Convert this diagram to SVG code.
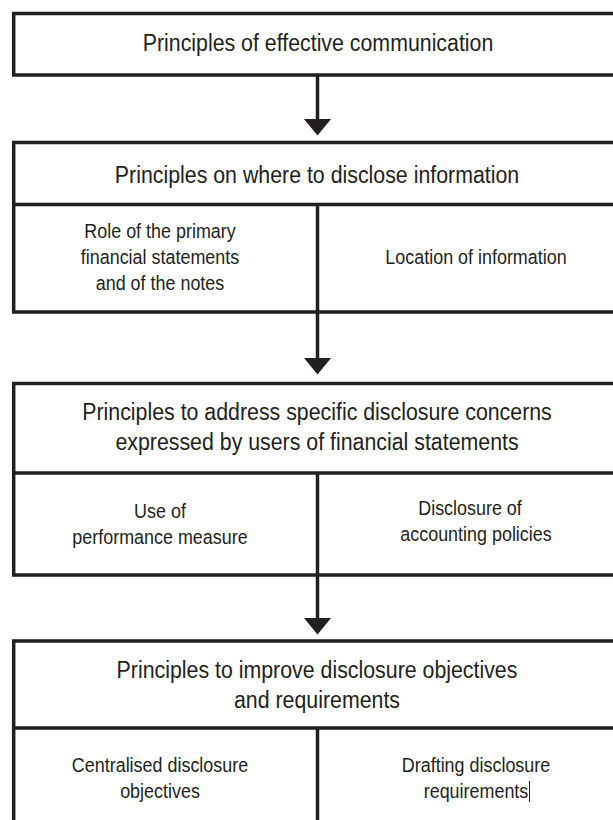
<svg xmlns="http://www.w3.org/2000/svg" width="613" height="820" viewBox="0 0 613 820">
<style>
.box{fill:#ffffff;stroke:#231f20;stroke-width:3.5}
.ln{stroke:#231f20;stroke-width:3.5;fill:none}
.h{font-family:"Liberation Sans",Arial,sans-serif;font-size:23.2px;fill:#231f20;text-anchor:middle}
.s{font-family:"Liberation Sans",Arial,sans-serif;font-size:19.5px;fill:#231f20;text-anchor:middle}
</style>
<defs>
<marker id="ah" markerUnits="userSpaceOnUse" markerWidth="17" markerHeight="28" refX="14" refY="14" orient="auto">
<path d="M0,0 L17,14 L0,28 Z" fill="#231f20"/>
</marker>
</defs>
<rect width="613" height="820" fill="#ffffff"/>
<g id="connectors">
<line class="ln" x1="317.5" y1="75" x2="317.5" y2="132.5" marker-end="url(#ah)"/>
<line class="ln" x1="317.5" y1="312" x2="317.5" y2="371.5" marker-end="url(#ah)"/>
<line class="ln" x1="317.5" y1="575" x2="317.5" y2="631.5" marker-end="url(#ah)"/>
</g>
<g id="node1">
<rect class="box" x="13.7" y="13.5" width="620" height="61.5"/>
<text class="h" transform="translate(318,51) scale(0.92,1)">Principles of effective communication</text>
</g>
<g id="node2">
<rect class="box" x="13.7" y="142.5" width="620" height="169.5"/>
<line class="ln" x1="13.7" y1="204.5" x2="640" y2="204.5"/>
<line class="ln" x1="317.5" y1="204.5" x2="317.5" y2="312"/>
<text class="h" transform="translate(317,183) scale(0.92,1)">Principles on where to disclose information</text>
<text class="s" transform="translate(160,237.5) scale(0.92,1)">Role of the primary</text>
<text class="s" transform="translate(160,263.5) scale(0.92,1)">financial statements</text>
<text class="s" transform="translate(160,289.5) scale(0.92,1)">and of the notes</text>
<text class="s" transform="translate(476,263.5) scale(0.92,1)">Location of information</text>
</g>
<g id="node3">
<rect class="box" x="13.7" y="383.5" width="620" height="191.5"/>
<line class="ln" x1="13.7" y1="473" x2="640" y2="473"/>
<line class="ln" x1="317.5" y1="473" x2="317.5" y2="575"/>
<text class="h" transform="translate(317,420) scale(0.92,1)">Principles to address specific disclosure concerns</text>
<text class="h" transform="translate(317,450) scale(0.92,1)">expressed by users of financial statements</text>
<text class="s" transform="translate(160,517.5) scale(0.92,1)">Use of</text>
<text class="s" transform="translate(160,543.5) scale(0.92,1)">performance measure</text>
<text class="s" transform="translate(470,514.5) scale(0.92,1)">Disclosure of</text>
<text class="s" transform="translate(476,540.5) scale(0.92,1)">accounting policies</text>
</g>
<g id="node4">
<rect class="box" x="13.7" y="641" width="620" height="200"/>
<line class="ln" x1="13.7" y1="728" x2="640" y2="728"/>
<line class="ln" x1="317.5" y1="728" x2="317.5" y2="841"/>
<text class="h" transform="translate(317,678) scale(0.92,1)">Principles to improve disclosure objectives</text>
<text class="h" transform="translate(317,708) scale(0.92,1)">and requirements</text>
<text class="s" transform="translate(160,771.5) scale(0.92,1)">Centralised disclosure</text>
<text class="s" transform="translate(160,797.5) scale(0.92,1)">objectives</text>
<text class="s" transform="translate(476,771.5) scale(0.92,1)">Drafting disclosure</text>
<text class="s" transform="translate(476,797.5) scale(0.92,1)">requirements</text>
<line x1="529.5" y1="781" x2="529.5" y2="802" stroke="#231f20" stroke-width="1"/>
</g>
</svg>
